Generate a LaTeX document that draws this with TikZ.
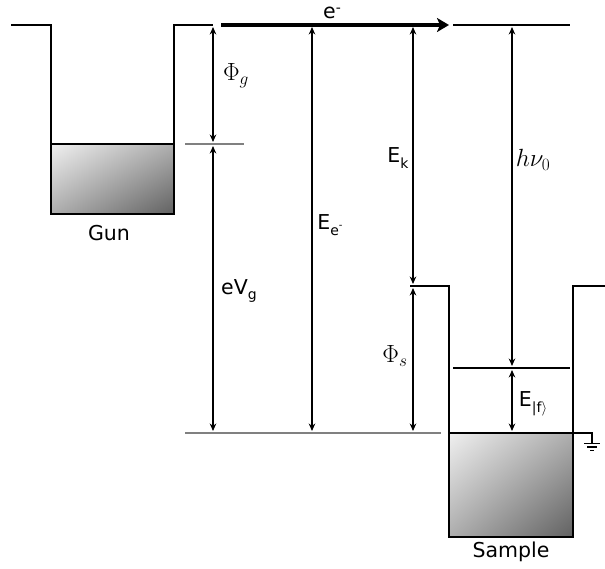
\documentclass[tikz,border=0pt]{standalone}
\usepackage{fontspec}
\setsansfont{DejaVu Sans}
\usetikzlibrary{arrows.meta,shadings}
\newcommand{\lsub}[1]{\raisebox{-0.28em}{\fontsize{14}{16}\selectfont #1}}
\newcommand{\lsup}[1]{\raisebox{0.32em}{\fontsize{14}{16}\selectfont #1}}
\begin{document}
\begin{tikzpicture}[x=1pt,y=-1pt,
  wall/.style={line width=2pt, line join=miter},
  lvl/.style={line width=2pt, black!50},
  dim/.style={line width=1.6pt, {Stealth[length=7.5pt,width=6.5pt]}-{Stealth[length=7.5pt,width=6.5pt]}},
  lab/.style={inner sep=0pt, font=\sffamily\fontsize{20.5}{24}\selectfont},
  mlab/.style={inner sep=0pt, font=\fontsize{25}{30}\selectfont},
  fill box/.style={upper left=black!6, lower right=black!62, upper right=black!32, lower left=black!32},
]
\useasboundingbox (0,0) rectangle (605,568);

% Gun well
\shade[fill box] (51,144) rectangle (174,214);
\draw[wall] (11,25) -- (51,25) -- (51,214) -- (174,214) -- (174,25) -- (213,25);
\draw[wall] (51,144) -- (174,144);

% Sample well
\shade[fill box] (449,433) rectangle (573,537);
\draw[wall] (410,286) -- (449,286) -- (449,537) -- (573,537) -- (573,286) -- (605,286);
\draw[wall] (449,433) -- (573,433);
\draw[wall] (453,368) -- (570,368);
\draw[wall] (453,25) -- (570,25);

% ground
\coordinate (g0) at (573,433);
\coordinate (g1) at (592,433);
\coordinate (g2) at (592,443);
\draw[line width=1.2pt] (g0) -- (g1) -- (g2);
\draw[line width=1.2pt] (584,443.5) -- (600,443.5);
\draw[line width=1.2pt] (587,447) -- (597,447);
\draw[line width=1.2pt] (590,450.5) -- (594,450.5);

% gray levels
\draw[lvl] (185,144) -- (244,144);
\draw[lvl] (185,433) -- (441,433);

% electron arrow
\coordinate (eA) at (221,25);
\coordinate (eB) at (449,25);
\draw[line width=4pt, -{Stealth[length=12pt,width=14pt,inset=3pt]}] (eA) -- (eB);
\node[lab] (elab) at (332,13) {e\lsup{-}};

% dimension coordinates
\coordinate (pgT) at (213,27);
\coordinate (pgB) at (213,142);
\coordinate (vgT) at (213,146);
\coordinate (vgB) at (213,431);
\coordinate (eeT) at (312,27);
\coordinate (eeB) at (312,431);
\coordinate (ekT) at (413,27);
\coordinate (ekB) at (413,284);
\coordinate (psT) at (413,288);
\coordinate (psB) at (413,431);
\coordinate (hvT) at (512,27);
\coordinate (hvB) at (512,366);
\coordinate (efT) at (512,370);
\coordinate (efB) at (512,431);

\draw[dim] (pgT) -- (pgB);
\draw[dim] (vgT) -- (vgB);
\draw[dim] (eeT) -- (eeB);
\draw[dim] (ekT) -- (ekB);
\draw[dim] (psT) -- (psB);
\draw[dim] (hvT) -- (hvB);
\draw[dim] (efT) -- (efB);

% labels
\node[mlab] (phig) at (236,76) {$\Phi_g$};
\node[lab] (gun) at (109,233) {Gun};
\node[lab] (evg) at (239,291) {eV\lsub{g}};
\node[lab] (ee) at (330,225) {E\lsub{e\raisebox{0.45em}{\fontsize{10}{12}\selectfont -}}};
\node[lab] (ek) at (398,158) {E\lsub{k}};
\node[mlab] (hv) at (533,160) {$h\nu_0$};
\node[mlab] (phis) at (395,356) {$\Phi_s$};
\node[lab] (ef) at (533,404) {E\lsub{|f$\rangle$}};
\node[lab] (sample) at (511,552) {Sample};
\end{tikzpicture}
\end{document}
